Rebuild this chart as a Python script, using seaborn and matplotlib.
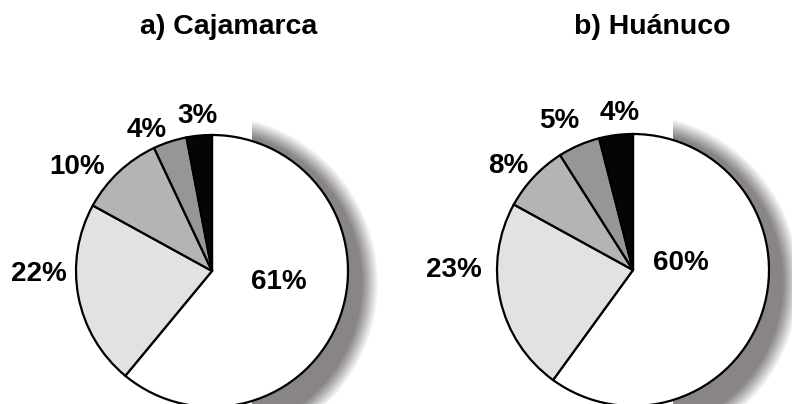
import matplotlib
matplotlib.use("Agg")
import matplotlib.pyplot as plt
import seaborn as sns
from matplotlib.patches import Circle, Rectangle

# ---- data ----
titles = ["a) Cajamarca", "b) Huánuco"]
cajamarca = [61, 22, 10, 4, 3]
huanuco = [60, 23, 8, 5, 4]
labels_caj = ["61%", "22%", "10%", "4%", "3%"]
labels_hua = ["60%", "23%", "8%", "5%", "4%"]

# ---- style ----
sns.set_theme(style="white")
plt.rcParams['font.family'] = ['Liberation Sans', 'DejaVu Sans']
colors = ["#ffffff", "#e2e2e2", "#b4b4b4", "#969696", "#050505"]
shadow_color = "#888584"

W, H, DPI = 792, 404, 100
fig = plt.figure(figsize=(W / DPI, H / DPI), dpi=DPI)
fig.patch.set_facecolor("white")

R = 136.0  # pie radius in pixels
# (axes left px, axes right px, pie centre x px, pie centre y px from top, title centre x px)
layouts = [(0, 396, 212, 271, 229), (396, 792, 633, 270, 652)]
# label positions (in units of radius, relative to pie centre)
label_pos = [
    [(0.49, -0.06), (-1.27, 0.0), (-0.99, 0.79), (-0.48, 1.06), (-0.11, 1.16)],
    [(0.35, 0.07), (-1.32, 0.02), (-0.92, 0.79), (-0.54, 1.12), (-0.10, 1.18)],
]
series = [cajamarca, huanuco]
labels = [labels_caj, labels_hua]

for k, (x0, x1, cx, cy, tx) in enumerate(layouts):
    ax = fig.add_axes([x0 / W, 0, (x1 - x0) / W, 1])
    cyb = H - cy
    xlim = (-(cx - x0) / R, (x1 - cx) / R)
    ylim = (-cyb / R, (H - cyb) / R)

    # soft shadow: larger blurred disc, clipped on its left side
    clip = Rectangle((40 / R, -10), 10, 20, transform=ax.transData,
                     facecolor="none", edgecolor="none")
    scx, scy = -2 / R, -12 / R
    rs, blur, n = 160 / R, 8 / R, 16
    for i in range(n):
        rr = rs + blur - 2 * blur * i / (n - 1)
        c = Circle((scx, scy), rr, facecolor=shadow_color, edgecolor="none",
                   alpha=1.0 / (n - i), zorder=1)
        ax.add_patch(c)
        c.set_clip_path(clip)

    wedges, _ = ax.pie(series[k], colors=colors, startangle=90, counterclock=False,
                       radius=1.0, center=(0, 0), frame=False,
                       wedgeprops=dict(edgecolor="black", linewidth=1.6))
    for w in wedges:
        w.set_zorder(3)
    ax.set_xlim(*xlim)
    ax.set_ylim(*ylim)
    ax.set_aspect("equal", adjustable="box")
    ax.axis("off")

    for lab, (lx, ly) in zip(labels[k], label_pos[k]):
        ax.text(lx, ly, lab, ha="center", va="center_baseline", fontsize=20,
                fontweight="bold", color="black", zorder=5)

    ax.text((tx - cx) / R, (H - 27 - cyb) / R, titles[k], ha="center", va="center",
            fontsize=20.5, fontweight="bold", color="black", zorder=5)

fig.savefig("out.png", dpi=DPI, facecolor="white")
